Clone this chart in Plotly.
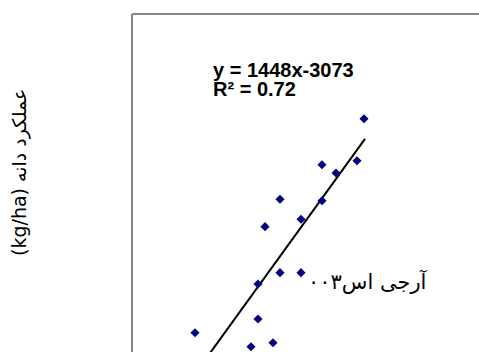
import plotly.graph_objects as go

# visible data points
grain_x = [5.32, 5.25, 4.90, 5.04, 4.48, 4.90, 4.69, 4.33, 4.48, 4.69, 4.26, 4.26, 3.63, 4.41, 4.19]
grain_yield = [4856, 4416, 4374, 4287, 4012, 3997, 3802, 3725, 3243, 3243, 3124, 2758, 2614, 2509, 2467]

# trend line y = 1448x - 3073
slope = 1448
intercept = -3073
trend_x = [3.5, 5.33]
trend_y = [slope * v + intercept for v in trend_x]

eq_text = "y = 1448x-3073"
r2_text = "R² = 0.72"
cultivar = "آرجی اس۰۰۳"
y_title = "(kg/ha) عملکرد دانه"

W, H = 479, 352
L, T = 132, 14


def px(x):
    # screen pixel -> paper fraction
    return (x - L) / (W - L)


def py(y):
    return (H - y) / (H - T)


fig = go.Figure()
fig.add_trace(go.Scatter(
    x=trend_x, y=trend_y, mode="lines",
    line=dict(color="black", width=2), showlegend=False,
))
fig.add_trace(go.Scatter(
    x=grain_x, y=grain_yield, mode="markers",
    marker=dict(symbol="diamond", size=7, color="#000080"),
    showlegend=False,
))

fig.update_layout(
    width=W, height=H,
    margin=dict(l=L, r=0, t=T, b=0),
    paper_bgcolor="white", plot_bgcolor="white",
    xaxis=dict(range=[3.0, 6.47], showgrid=False, zeroline=False,
               showticklabels=False, ticks=""),
    yaxis=dict(range=[2411.7, 5953.5], showgrid=False, zeroline=False,
               showticklabels=False, ticks=""),
    shapes=[
        dict(type="line", xref="paper", yref="paper", x0=0, y0=0, x1=0, y1=1,
             line=dict(color="#858585", width=2)),
        dict(type="line", xref="paper", yref="paper", x0=0, y0=1, x1=1, y1=1,
             line=dict(color="#858585", width=2)),
    ],
)

bold = dict(family="Liberation Sans, Arial", size=20, color="black")
fig.add_annotation(text="<b>" + eq_text + "</b>", xref="paper", yref="paper",
                   x=px(211), y=py(70), xanchor="left", yanchor="middle",
                   showarrow=False, font=bold)
fig.add_annotation(text="<b>" + r2_text + "</b>", xref="paper", yref="paper",
                   x=px(211), y=py(89), xanchor="left", yanchor="middle",
                   showarrow=False, font=bold)
fig.add_annotation(text=cultivar, xref="paper", yref="paper",
                   x=px(368), y=py(281), xanchor="center", yanchor="middle",
                   showarrow=False,
                   font=dict(family="DejaVu Sans", size=21, color="black"))
fig.add_annotation(text=y_title, xref="paper", yref="paper",
                   x=px(19), y=py(173), xanchor="center", yanchor="middle",
                   textangle=-90, showarrow=False,
                   font=dict(family="DejaVu Sans", size=19, color="black"))

# drop the default 8px page margin so the figure sits at the window corner
fig.write_html(
    "out.html",
    config={"displayModeBar": False},
    post_script="document.body.style.margin='0';document.body.style.overflow='hidden';",
)
